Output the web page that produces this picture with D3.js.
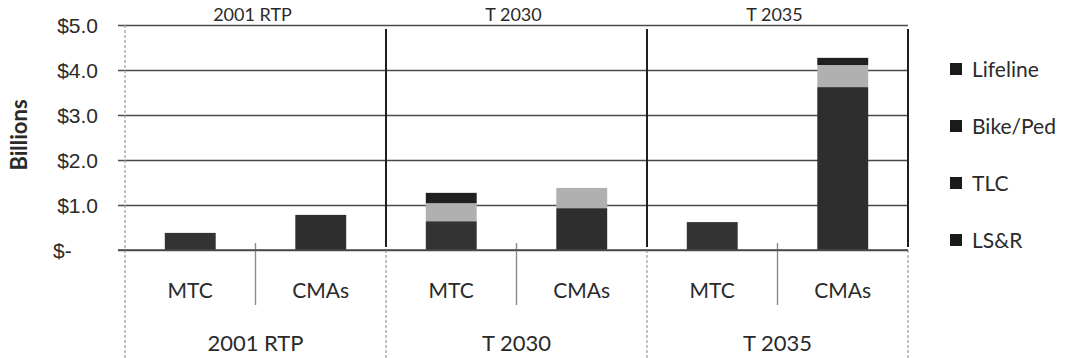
<!DOCTYPE html>
<html>
<head>
<meta charset="utf-8">
<script src="https://cdn.jsdelivr.net/npm/d3@7"></script>
<style>
  html, body { margin: 0; padding: 0; background: #fff; }
  svg { display: block; font-family: Lato, "Open Sans", sans-serif; }
</style>
</head>
<body>
<svg id="chart" width="1065" height="358"></svg>
<script>
// Plans and the two sponsors within each plan
const plans = ["2001 RTP", "T 2030", "T 2035"];
const sponsors = ["MTC", "CMAs"];

// Funding by program, $ billions, in order: 2001 MTC, 2001 CMAs, T2030 MTC, T2030 CMAs, T2035 MTC, T2035 CMAs
const lsr      = [0.00, 0.78, 0.00, 0.93, 0.00, 3.62];
const tlc      = [0.38, 0.00, 0.64, 0.00, 0.62, 0.00];
const bikePed  = [0.00, 0.00, 0.40, 0.45, 0.00, 0.49];
const lifeline = [0.00, 0.00, 0.23, 0.00, 0.00, 0.16];

const seriesNames = ["LS&R", "TLC", "Bike/Ped", "Lifeline"];
const yTicks = [0, 1, 2, 3, 4, 5];

// Build rows for the stack
const keys = [];
plans.forEach(p => sponsors.forEach(s => keys.push(p + "|" + s)));
const rows = keys.map((k, i) => ({
  key: k,
  "LS&R": lsr[i],
  "TLC": tlc[i],
  "Bike/Ped": bikePed[i],
  "Lifeline": lifeline[i]
}));

const svg = d3.select("#chart");
const plotLeft = 125, plotRight = 908, plotTop = 25, plotBottom = 250;

const x = d3.scaleBand().domain(keys).range([plotLeft, plotRight])
  .paddingInner(0.61).paddingOuter(0.305);
const xGroup = d3.scaleBand().domain(plans).range([plotLeft, plotRight]);
const y = d3.scaleLinear().domain([0, 5]).range([plotBottom, plotTop]);

const color = d3.scaleOrdinal().domain(seriesNames)
  .range(["#2e2e2e", "#333333", "#b0b0b0", "#202020"]);

// Gridlines and value axis
const yAxis = d3.axisLeft(y).tickValues(yTicks)
  .tickSize(-(plotRight - 118)).tickPadding(20)
  .tickFormat(d => d === 0 ? "$-" : "$" + d3.format(".1f")(d));
const gy = svg.append("g").attr("transform", "translate(118,0)").call(yAxis);
gy.select(".domain").remove();
gy.selectAll(".tick line").attr("stroke", "#4a4a4a").attr("stroke-width", 1.6);
gy.selectAll(".tick text")
  .attr("fill", "#2a2a2a").attr("font-size", 21)
  .attr("dy", "0.34em")
  .each(function(d) {
    if (d === 0) d3.select(this).attr("text-anchor", "start").attr("x", 53 - 118);
  });

// Left edge of the category area
svg.append("line")
  .attr("x1", plotLeft).attr("x2", plotLeft).attr("y1", plotTop).attr("y2", 358)
  .attr("stroke", "#999").attr("stroke-width", 1.2).attr("stroke-dasharray", "3,2");

// Plan dividers: solid inside the plot, dashed through the label area
const dividers = [xGroup("T 2030"), xGroup("T 2035"), plotRight];
dividers.forEach(dx => {
  svg.append("line")
    .attr("x1", dx).attr("x2", dx).attr("y1", plotTop + 4).attr("y2", plotBottom - 3)
    .attr("stroke", "#1e1e1e").attr("stroke-width", 2);
  svg.append("line")
    .attr("x1", dx).attr("x2", dx).attr("y1", plotBottom).attr("y2", 358)
    .attr("stroke", "#999").attr("stroke-width", 1.2).attr("stroke-dasharray", "3,2");
});

// Sponsor dividers within each plan
plans.forEach(p => {
  const mx = xGroup(p) + xGroup.bandwidth() / 2;
  svg.append("line")
    .attr("x1", mx).attr("x2", mx).attr("y1", plotBottom - 7).attr("y2", 305)
    .attr("stroke", "#8a8a8a").attr("stroke-width", 1.4);
});

// Stacked bars
const stack = d3.stack().keys(seriesNames)(rows);
svg.append("g").selectAll("g").data(stack).join("g")
  .attr("fill", d => color(d.key))
  .selectAll("rect").data(d => d.filter(s => s[1] - s[0] > 0)).join("rect")
  .attr("x", d => x(d.data.key))
  .attr("width", x.bandwidth())
  .attr("y", d => y(d[1]))
  .attr("height", d => y(d[0]) - y(d[1]));

// Zero line along the bars' base
svg.append("line")
  .attr("x1", 118).attr("x2", plotRight).attr("y1", y(0)).attr("y2", y(0))
  .attr("stroke", "#4a4a4a").attr("stroke-width", 1.6);

// Sponsor labels
svg.append("g").selectAll("text").data(keys).join("text")
  .attr("x", d => x(d) + x.bandwidth() / 2)
  .attr("y", 298)
  .attr("text-anchor", "middle")
  .attr("font-size", 21).attr("fill", "#2a2a2a")
  .text(d => d.split("|")[1]);

// Plan labels below the axis
svg.append("g").selectAll("text").data(plans).join("text")
  .attr("x", d => xGroup(d) + xGroup.bandwidth() / 2)
  .attr("y", 351)
  .attr("text-anchor", "middle")
  .attr("font-size", 22).attr("fill", "#2a2a2a")
  .text(d => d);

// Plan labels above the plot
svg.append("g").selectAll("text").data(plans).join("text")
  .attr("x", d => xGroup(d) + xGroup.bandwidth() / 2 - 3)
  .attr("y", 21)
  .attr("text-anchor", "middle")
  .attr("font-size", 18).attr("fill", "#2a2a2a")
  .text(d => d);

// Value axis title
svg.append("text")
  .attr("transform", "translate(27,135) rotate(-90)")
  .attr("text-anchor", "middle")
  .attr("font-size", 22).attr("font-weight", "bold").attr("fill", "#2a2a2a")
  .text("Billions");

// Legend, top entry is the top of the stack
const legendItems = seriesNames.slice().reverse();
const legendY = d3.scalePoint().domain(legendItems).range([69, 240]);
const lg = svg.append("g").selectAll("g").data(legendItems).join("g")
  .attr("transform", d => `translate(950,${legendY(d)})`);
lg.append("rect")
  .attr("x", 0).attr("y", -6).attr("width", 12).attr("height", 12)
  .attr("fill", "#1a1a1a");
lg.append("text")
  .attr("x", 22).attr("y", 0).attr("dy", "0.36em")
  .attr("font-size", 21).attr("fill", "#2a2a2a")
  .text(d => d);
</script>
</body>
</html>
